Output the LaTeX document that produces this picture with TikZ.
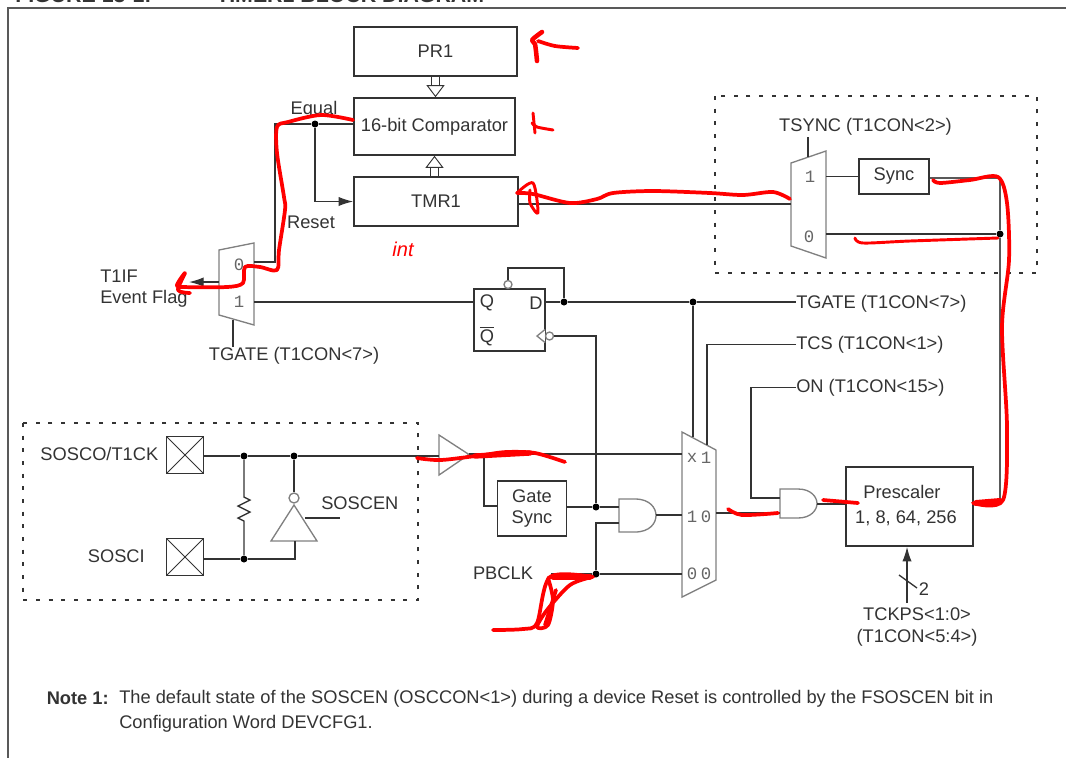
\documentclass[tikz,border=0pt]{standalone}
\usepackage{fontspec}
\setmainfont{Liberation Sans}
\setmonofont{Liberation Mono}
\usetikzlibrary{arrows.meta, calc, decorations.pathmorphing}
\newcommand{\px}{0.75pt}
\definecolor{wirec}{HTML}{333333}
\definecolor{gatec}{HTML}{808080}

\begin{document}
\begin{tikzpicture}[
    x=\px, y=-\px,
    >={Latex[length=11pt, width=7pt]},
    every node/.style={font=\fontsize{13.7}{16}\selectfont, text=wirec},
    wire/.style={draw=wirec, line width=1pt},
    fatwire/.style={draw=gray!70!black, line width=1.5pt},
    gate/.style={draw=gatec, line width=1pt, fill=white},
    block/.style={draw=wirec, line width=1.2pt, fill=white, inner sep=0pt, align=center},
    pad/.style={draw=wirec, line width=1.1pt, inner sep=0pt, minimum size=37*\px,
                path picture={
                  \draw[wirec, line width=0.6pt] (path picture bounding box.north west) -- (path picture bounding box.south east);
                  \draw[wirec, line width=0.6pt] (path picture bounding box.north east) -- (path picture bounding box.south west);}},
    lbl/.style={inner sep=0pt, align=center, yshift=-1pt},
    pin/.style={inner sep=0pt, font=\ttfamily\fontsize{13}{15}\selectfont, text=gray!80!black},
    dot/.style={circle, fill=black, inner sep=0pt, minimum size=7*\px},
    bubble/.style={circle, gate, inner sep=0pt, minimum size=8*\px},
    frontier/.style={draw=wirec, line width=1.2pt, dash pattern=on 3pt off 6.5pt},
    bus/.style={draw=wirec, line width=0.7pt, double=white, double distance=5.5pt,
                -{Triangle[open, length=9pt, width=13.5pt, fill=white]}},
    ink/.style={draw=red, line width=2.8pt, line cap=round, line join=round},
]
\useasboundingbox (0,0) rectangle (1066,758);
\clip (0,0) rectangle (1066,758);
% page frame and clipped caption
\draw[draw=gray!70!black, line width=1.6pt] (1066,8) -- (8,8) -- (8,758);
\node[lbl, anchor=base west, font=\bfseries\fontsize{16}{18}\selectfont] (figno) at (15,1) {FIGURE 13-1:};
\node[lbl, anchor=base west, font=\bfseries\fontsize{16}{18}\selectfont] (figname) at (216,1) {TIMER1 BLOCK DIAGRAM};
% the register stack
\node[block, minimum width=163*\px, minimum height=49*\px] (pr) at (435.5,51.5) {PR1};
\node[block, minimum width=161*\px, minimum height=57*\px] (cmp) at (434.5,126.5) {16-bit Comparator};
\node[block, minimum width=164*\px, minimum height=49*\px] (tmr) at (436,201.5) {TMR1};
\draw[bus] (pr.south) -- (pr.south |- cmp.north);
\draw[bus] (tmr.north -| cmp.north) -- (cmp.north |- cmp.south);
% interrupt flag mux
\draw[gate] (219,250) -- (254,243) -- (254,325) -- (219,315) -- cycle;
\node[pin] (fz) at (239,265) {0};
\node[pin] (fo) at (239,302) {1};
\coordinate (fin0) at (254,262);
\coordinate (fin1) at (254,302);
\coordinate (fout) at (219,282);
\coordinate (fsel) at (233,320);
\coordinate (eqcorner) at (275,124);
\node[dot] (deq) at (315,124) {};
\node[lbl] (leq) at (314,108) {Equal};
\node[lbl] (lrst) at (311,221) {Reset};
\node[lbl, anchor=west, align=left] (lflag) at (100,287) {T1IF\\Event Flag};
\node[lbl] (lfsel) at (294,354) {TGATE (T1CON<7>)};
\draw[wire] (cmp.west |- deq) -- (deq) -- (eqcorner) -- (eqcorner |- fin0) -- (fin0);
\draw[wire, ->] (deq) |- (tmr.west);
\draw[wire, ->] (fout) -- (189,282);
\draw[wire] (fsel) -- (fsel |- lfsel.north);
% gate flip-flop
\node[block, minimum width=71*\px, minimum height=62*\px] (ff) at (509.5,320) {};
\node[lbl] (ffq) at (487,302) {Q};
\node[lbl] (ffn) at (487,335) {$\overline{\mbox{Q}}$};
\node[lbl] (ffd) at (536,302) {D};
\draw[gate] (545,329.5) -- (537,336) -- (545,342.5);
\node[bubble] (ffclk) at (549.5,336) {};
\node[bubble] (ffrst) at (508,284.5) {};
\node[dot] (dd) at (564,302) {};
\node[dot] (dg) at (693,302) {};
\draw[wire] (fin1) -- (fin1 -| ff.west);
\draw[wire] (ffrst.north) |- (564,268) -- (dd);
\draw[wire] (dd -| ff.east) -- (dd) -- (dg);
% control bit labels
\node[lbl, anchor=west] (lgate) at (796,302) {TGATE (T1CON<7>)};
\node[lbl, anchor=west] (ltcs) at (796,343) {TCS (T1CON<1>)};
\node[lbl, anchor=west] (lon) at (796,386) {ON (T1CON<15>)};
\draw[wire] (dg) -- (dg -| lgate.west);
% sync section
\draw[frontier] (715,96) rectangle (1037,273);
\draw[gate] (791,163) -- (826,151) -- (826,258) -- (791,246) -- cycle;
\node[pin] (sone) at (810,177) {1};
\node[pin] (szero) at (809,237) {0};
\node[block, minimum width=70*\px, minimum height=35*\px] (sync) at (894,176.5) {Sync};
\node[lbl] (lsync) at (865.5,125) {TSYNC (T1CON<2>)};
\node[dot] (dclk) at (1000,234) {};
\coordinate (sin1) at (826,176.5);
\coordinate (sin0) at (826,234);
\coordinate (sout) at (791,204);
\coordinate (ssel) at (808,157);
\draw[wire] (sin1) -- (sync.west);
\draw[wire] (sin0) -- (dclk);
\draw[wire] (ssel) -- (ssel |- 0,137);
\draw[wire, line width=1.1pt] (sout) -- (sout -| tmr.east);
% clock source mux
\draw[gate] (682,432) -- (716,450) -- (716,580) -- (682,597) -- cycle;
\node[pin] at (692,458) {x};
\node[pin] at (706,458) {1};
\node[pin] at (692,517) {1};
\node[pin] at (706,517) {0};
\node[pin] at (692,574) {0};
\node[pin] at (706,574) {0};
\coordinate (msel0) at (693,437);
\coordinate (msel1) at (707,445);
\coordinate (mout) at (716,513);
\draw[wire] (dg) -- (msel0);
\draw[wire] (ltcs.west) -| (msel1);
% gates
\draw[gate] (619,499) -- (635,499) .. controls (650,499) and (656,508) .. (656,515.5) .. controls (656,523) and (650,532) .. (635,532) -- (619,532) -- cycle;
\draw[gate] (780,489) -- (798,489) .. controls (811,489) and (817,497) .. (817,503.5) .. controls (817,510) and (811,518) .. (798,518) -- (780,518) -- cycle;
\coordinate (aout) at (656,515);
\coordinate (ain0) at (619,507);
\coordinate (ain1) at (619,523);
\coordinate (bout) at (817,504);
\coordinate (bin0) at (780,498);
\coordinate (bin1) at (780,513);
% prescaler
\node[block, minimum width=127*\px, minimum height=79*\px] (psc) at (909.5,506.5) {};
\node[lbl] (lpsc) at (902,491) {Prescaler};
\node[lbl] (lratio) at (906,517) {1, 8, 64, 256};
\node[lbl] (ltck) at (917,625.5) {TCKPS<1:0>\\(T1CON<5:4>)};
\node[lbl] (ltwo) at (924,588) {2};
\coordinate (pscin) at (907,603);
\draw[wire, ->] (pscin) -- (pscin |- psc.south);
\draw[wire] (899,575) -- (917,588);
\draw[wire] (mout) -- (bin1);
\draw[wire] (lon.west) -| (751,498) -- (bin0);
\draw[wire, line width=1.2pt] (bout) -- (bout -| psc.west);
\draw[fatwire] (psc.east |- 0,502) -| (dclk);
\draw[fatwire] (dclk) |- (sync.east |- 0,178);
% gate sync
\node[block, minimum width=69*\px, minimum height=55*\px] (gsync) at (532,508.5) {Gate\\Sync};
\node[lbl] (lpb) at (503,572) {PBCLK};
\node[dot] (dgs) at (596,507) {};
\node[dot] (dpb) at (596,574) {};
\draw[wire] (gsync.east |- dgs) -- (dgs) -- (ain0);
\draw[wire] (ffclk.east) -| (dgs);
\draw[wire] (dpb) |- (ain1);
\draw[wire] (551,574) -- (dpb) -- (682,574);
\draw[wire] (aout) -- (682,515);
% oscillator section
\draw[frontier] (23,423) rectangle (418,600);
\node[pad] (posc) at (185,455) {};
\node[pad] (psi) at (185,557) {};
\node[lbl, anchor=east] (losc) at (158.5,453) {SOSCO/T1CK};
\node[lbl, anchor=east] (lsi) at (145,555) {SOSCI};
\node[lbl, anchor=west] (len) at (321,502) {SOSCEN};
\node[dot] (dres) at (244,456) {};
\node[dot] (dinv) at (294,456) {};
\node[dot] (dsi) at (244,559) {};
\draw[gate] (294,505) -- (317,541) -- (271,541) -- cycle;
\node[bubble, minimum size=10*\px] (binv) at (294,498) {};
\coordinate (invin) at (295,541);
\draw[gate] (439,435) -- (469,454.5) -- (439,475) -- cycle;
\coordinate (bufin) at (439,456);
\coordinate (bufout) at (469,454);
\draw[wire] (posc.east |- dres) -- (dres) -- (dinv) -- (bufin);
\draw[wire] (dinv) -- (binv.north);
\draw[wire, decorate, decoration={zigzag, segment length=9pt, amplitude=4.5pt, pre length=28pt, post length=23pt}] (dres) -- (dsi);
\draw[wire] (psi.east |- dsi) -- (dsi) -| (invin);
\draw[wire] (305,518) -- (340,518);
% buffer output
\draw[wire] (bufout) -- (682,454);
\draw[wire] (484,454) |- (gsync.west |- 0,506);
% note
\node[lbl, anchor=west, font=\bfseries\fontsize{13.7}{16}\selectfont] (nnum) at (46.5,697) {Note 1:};
\node[lbl, anchor=west] (ntop) at (119,697) {The default state of the SOSCEN (OSCCON<1>) during a device Reset is controlled by the FSOSCEN bit in};
\node[lbl, anchor=west] (nbot) at (119,722) {Configuration Word DEVCFG1.};
% red pen marks on top
\draw[ink, line width=3.4pt] plot[smooth] coordinates {(537,61) (535,44) (532,40) (542,32)};
\draw[ink] plot[smooth] coordinates {(538,41) (555,46) (578,48)};
\draw[ink, line width=2.2pt] plot[smooth] coordinates {(535,133) (533,113)};
\draw[ink, line width=2.2pt] plot[smooth] coordinates {(532,123) (537,127) (553,130)};
\draw[ink] plot[smooth] coordinates {(353,120) (321,115) (288,122) (277,127) (277,153) (284,197) (285,210) (279,250) (277,270) (260,267) (245,267) (243,283) (227,287) (183,287) (177,285) (185,273) (178,290) (190,293)};
\draw[ink] plot[smooth] coordinates {(517,193) (533,194) (570,203) (597,199) (613,193) (653,191) (710,193) (743,195) (773,192) (790,199)};
\draw[ink, line width=2.2pt] plot[smooth] coordinates {(517,193) (533,183) (538,213) (530,203) (530,190)};
\draw[ink] plot[smooth] coordinates {(933,180) (940,183) (970,180) (998,177) (1007,203) (1009,260) (1002,327) (1007,427) (1003,500) (973,503)};
\draw[ink, line width=4.5pt] (976,503) -- (1000,501);
\draw[ink, line width=2.2pt] plot[smooth] coordinates {(855,238) (863,243) (910,241) (998,238)};
\draw[ink] plot[smooth] coordinates {(417,458) (441,460) (483,455) (506,452) (535,453) (565,462)};
\draw[ink, line width=4pt] (475,456) -- (530,453);
\draw[ink] plot[smooth] coordinates {(728,509) (742,515) (778,513)};
\draw[ink] plot[smooth] coordinates {(823,500) (858,503)};
\draw[ink] plot[smooth] coordinates {(493,630) (523,629) (537,623) (550,577) (593,577)};
\draw[ink] plot[smooth] coordinates {(592,577) (570,585) (547,610) (537,627) (548,625) (553,600) (548,578)};
\draw[ink, line width=4pt] (553,577) -- (590,577);
\draw[ink] (545,625) -- (556,590);
\node[lbl, text=red, font=\itshape\fontsize{15}{16}\selectfont] (lint) at (403,248) {int};
\end{tikzpicture}
\end{document}
